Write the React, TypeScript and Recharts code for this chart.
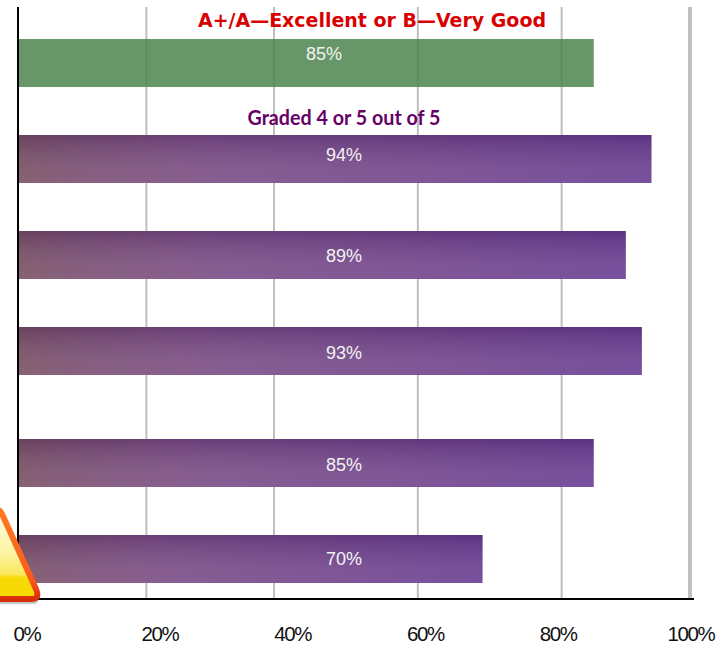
import { Bar, BarChart, CartesianGrid, LabelList, Rectangle, ReferenceLine, XAxis, YAxis } from "recharts";

const slots = [0, 6, 12, 18, 25, 31];
const lengths = [85, 94, 90, 92.5, 85, 69];
const printed = ["85%", "94%", "89%", "93%", "85%", "70%"];
const groups = ["letter", "graded", "graded", "graded", "graded", "graded"];
const ticks = [0, 20, 40, 60, 80, 100];

const data = slots.map((slot, i) => ({
  slot,
  length: lengths[i],
  printed: printed[i],
  group: groups[i],
}));

// the source slide stretches the middle of the axis, so gridlines are not evenly spaced
const gridStops = [0, 0.191, 0.381, 0.595, 0.809, 1];
// hand placed value labels in the source, they don't sit centred on the bars
const labelNudge = [-9, -4, 1, 2, 2, 0];
const AXIS_PAD_RIGHT = 4;

function stretchedScale() {
  let domain = [0, 100];
  let range = [0, 1];
  const scale: any = (v: number) => {
    const t = (v - domain[0]) / (domain[1] - domain[0]);
    const pos = t * (gridStops.length - 1);
    const i = Math.min(Math.floor(pos), gridStops.length - 2);
    const f = gridStops[i] + (pos - i) * (gridStops[i + 1] - gridStops[i]);
    return range[0] + f * (range[1] - range[0]);
  };
  scale.domain = (d?: number[]) => (d ? ((domain = d), scale) : domain);
  scale.range = (r?: number[]) => (r ? ((range = r), scale) : range);
  scale.ticks = () => ticks;
  scale.copy = () => stretchedScale();
  return scale;
}

// the grid doesn't pick up the custom axis scale by itself
function gridLines({ offset }: any) {
  const scale = stretchedScale().range([offset.left, offset.left + offset.width - AXIS_PAD_RIGHT]);
  return ticks.slice(1, 5).map((t) => scale(t));
}

function BarShape(props: any) {
  const { x, y, width, height, group } = props;
  if (group === "letter") {
    return <Rectangle x={x} y={y} width={width} height={height} fill="#4c854e" fillOpacity={0.85} />;
  }
  return (
    <g>
      <Rectangle x={x} y={y} width={width} height={height} fill="url(#purpleAcross)" />
      <Rectangle x={x} y={y} width={width} height={height} fill="url(#purpleDown)" />
    </g>
  );
}

function ValueLabel(props: any) {
  const { y, height, value, index } = props;
  return (
    <text
      x={index === 0 ? 324 : 344}
      y={y + height / 2 + labelNudge[index]}
      textAnchor="middle"
      dominantBaseline="central"
      fill="#f2f2f2"
      fontSize={18}
      fontFamily="Liberation Sans"
    >
      {value}
    </text>
  );
}

function WarningSign() {
  return (
    <svg width={720} height={645} style={{ position: "absolute", left: 0, top: 0, pointerEvents: "none" }}>
      <defs>
        <linearGradient id="signFill" x1="0" y1="0" x2="0" y2="1">
          <stop offset="0%" stopColor="#fffde8" />
          <stop offset="50%" stopColor="#fdf3a0" />
          <stop offset="72%" stopColor="#fbe85a" />
          <stop offset="76%" stopColor="#f8da08" />
          <stop offset="100%" stopColor="#f7d800" />
        </linearGradient>
        <linearGradient id="signEdge" x1="0" y1="0" x2="0" y2="1">
          <stop offset="0%" stopColor="#ff7a20" />
          <stop offset="80%" stopColor="#f8591a" />
          <stop offset="100%" stopColor="#d92c08" />
        </linearGradient>
      </defs>
      <path d="M-24 599 L32 599 Q40 599 36 589 L2 514 Q-2 506 -8 514 Z" fill="#444" fillOpacity={0.3} transform="translate(1 5)" />
      <path
        d="M-24 599 L32 599 Q40 599 36 589 L2 514 Q-2 506 -8 514 Z"
        fill="url(#signFill)"
        stroke="url(#signEdge)"
        strokeWidth={6}
        strokeLinejoin="round"
      />
    </svg>
  );
}

export default function App() {
  return (
    <div style={{ position: "absolute", left: 0, top: 0, width: 720, height: 645, overflow: "hidden" }}>
      <BarChart
        width={720}
        height={645}
        data={data}
        layout="vertical"
        margin={{ top: 7, right: 26, bottom: 0, left: 0 }}
      >
        <defs>
          <linearGradient id="purpleAcross" x1="0" y1="0" x2="1" y2="0">
            <stop offset="0%" stopColor="#7d5464" />
            <stop offset="8%" stopColor="#7d5272" />
            <stop offset="30%" stopColor="#7f5088" />
            <stop offset="100%" stopColor="#6c4094" />
          </linearGradient>
          <linearGradient id="purpleDown" x1="0" y1="0" x2="0" y2="1">
            <stop offset="0%" stopColor="#200040" stopOpacity={0.22} />
            <stop offset="100%" stopColor="#ffffff" stopOpacity={0.08} />
          </linearGradient>
        </defs>
        <CartesianGrid
          horizontal={false}
          verticalCoordinatesGenerator={gridLines}
          stroke="#bfbfbf"
          strokeWidth={2}
        />
        <XAxis
          type="number"
          dataKey="length"
          xAxisId={0}
          scale={stretchedScale()}
          domain={[0, 100]}
          ticks={ticks}
          padding={{ left: 0, right: AXIS_PAD_RIGHT }}
          height={1}
          tick={false}
          tickLine={false}
          axisLine={{ stroke: "#000", strokeWidth: 2 }}
        />
        <XAxis
          type="number"
          xAxisId="labels"
          domain={[0, 100]}
          allowDataOverflow
          ticks={ticks}
          padding={{ left: 9, right: 3 }}
          height={45}
          tickLine={false}
          axisLine={false}
          interval={0}
          tickMargin={20}
          tickFormatter={(v: number) => `${v}%`}
          tick={{ fill: "#111", fontSize: 20.5, fontFamily: "Liberation Sans", letterSpacing: -1.4 }}
        />
        <YAxis
          type="number"
          dataKey="slot"
          domain={[-3.5, 33.5]}
          width={18}
          tick={false}
          tickLine={false}
          axisLine={{ stroke: "#000", strokeWidth: 2 }}
        />
        <ReferenceLine x={100} xAxisId={0} stroke="#c0c0c0" strokeWidth={4} />
        <Bar dataKey="length" barSize={48} isAnimationActive={false} shape={<BarShape />}>
          <LabelList dataKey="printed" content={<ValueLabel />} />
        </Bar>
        <text
          x={372}
          y={20}
          textAnchor="middle"
          dominantBaseline="central"
          fill="#d90000"
          fontSize={20}
          fontWeight={700}
          fontFamily="DejaVu Sans"
          textLength={348}
          lengthAdjust="spacingAndGlyphs"
        >
          A+/A—Excellent or B—Very Good
        </text>
        <text
          x={344}
          y={117}
          textAnchor="middle"
          dominantBaseline="central"
          fill="#660066"
          fontSize={20}
          fontWeight={700}
          fontFamily="Lato"
          textLength={193}
          lengthAdjust="spacingAndGlyphs"
        >
          Graded 4 or 5 out of 5
        </text>
      </BarChart>
      <WarningSign />
    </div>
  );
}
